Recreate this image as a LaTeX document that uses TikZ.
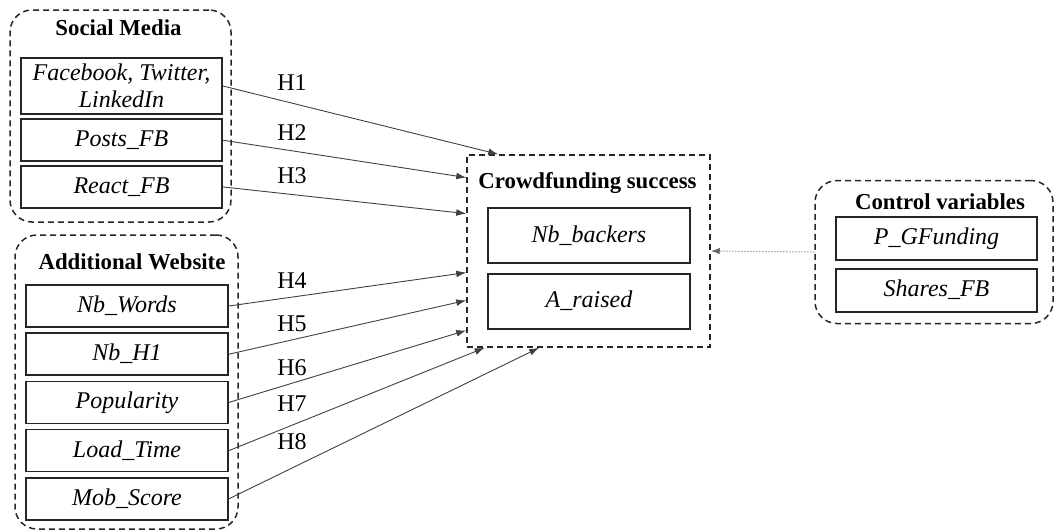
\documentclass[tikz,border=0pt]{standalone}
\usepackage{fontspec}
\setmainfont{Liberation Serif}
\usetikzlibrary{positioning,arrows.meta}
\tikzset{
  grpframe/.style={draw=black!85, dash pattern=on 3pt off 2pt, line width=0.75pt, rounded corners=11pt, inner sep=0pt},
  grptitle/.style={font=\fontsize{11.4}{14}\selectfont\bfseries, inner sep=0pt},
  varbox/.style={draw=black!85, line width=0.85pt, minimum width=100.5pt, minimum height=21pt,
                 inner sep=2pt, font=\fontsize{12}{13.4}\selectfont\itshape, align=center},
  hyp/.style={font=\fontsize{12}{14}\selectfont, inner sep=0pt},
  fwd/.style={-{Latex[length=5pt,width=3.4pt]}, line width=0.45pt, draw=black!75},
  ctrlarrow/.style={-{Latex[length=4.5pt,width=3.2pt]}, densely dotted, line width=0.5pt, draw=black!60},
}
\begin{document}
\begin{tikzpicture}[x=0.5pt, y=-0.5pt]
  \useasboundingbox (0,0) rectangle (1055,531);

  % group frames
  \node[grpframe, minimum width=110.5pt, minimum height=106pt] (social) at (120.5,116) {};
  \node[grpframe, minimum width=111.5pt, minimum height=147pt] (website) at (126.5,382) {};
  \node[grpframe, sharp corners, minimum width=121.5pt, minimum height=96pt] (crowd) at (588.5,251) {};
  \node[grpframe, minimum width=119pt, minimum height=71.5pt] (ctrl) at (934,252) {};

  \node[grptitle] (socialtitle) at (118.5,28) {Social Media};
  \node[grptitle] (webtitle) at (132,262) {Additional Website};
  \node[grptitle] (crowdtitle) at (587.5,183) {Crowdfunding success};
  \node[grptitle] (ctrltitle) at (940,202) {Control variables};

  \node[varbox, minimum height=28pt] (fb) at (121.5,86) {Facebook, Twitter,\\ LinkedIn};
  \node[varbox, below=1.75pt of fb] (posts) {Posts\_FB};
  \node[varbox, below=1.5pt of posts] (react) {React\_FB};

  \node[varbox, minimum width=101pt] (words) at (127,306) {Nb\_Words};
  \node[varbox, minimum width=101pt, below=2.25pt of words] (hone) {Nb\_H1};
  \node[varbox, minimum width=101pt, below=2.25pt of hone] (popul) {Popularity};
  \node[varbox, minimum width=101pt, below=2.25pt of popul] (load) {Load\_Time};
  \node[varbox, minimum width=101pt, below=2.25pt of load] (mob) {Mob\_Score};

  \node[varbox, minimum width=101pt, minimum height=27.5pt] (backers) at (589,235.5) {Nb\_backers};
  \node[varbox, minimum width=101pt, minimum height=27.5pt, below=4.5pt of backers] (raised) {A\_raised};

  \node[varbox, minimum height=21.5pt] (gfunding) at (936.5,238.5) {P\_GFunding};
  \node[varbox, minimum height=21.5pt, below=3.5pt of gfunding] (shares) {Shares\_FB};

  \foreach \src/\ang in {fb/133, posts/149.7, react/163.1, words/190.3, hone/202.4,
                         popul/213.4, load/223.4, mob/243.2}
    \draw[fwd] (\src.east) -- (crowd.\ang);

  \foreach \i/\y in {1/83, 2/133, 3/176, 4/281, 5/324, 6/368, 7/404, 8/442}
    \node[hyp] (h\i) at (292,\y) {H\i};

  \draw[ctrlarrow] (ctrl.west) -- (crowd.east);
\end{tikzpicture}
\end{document}
